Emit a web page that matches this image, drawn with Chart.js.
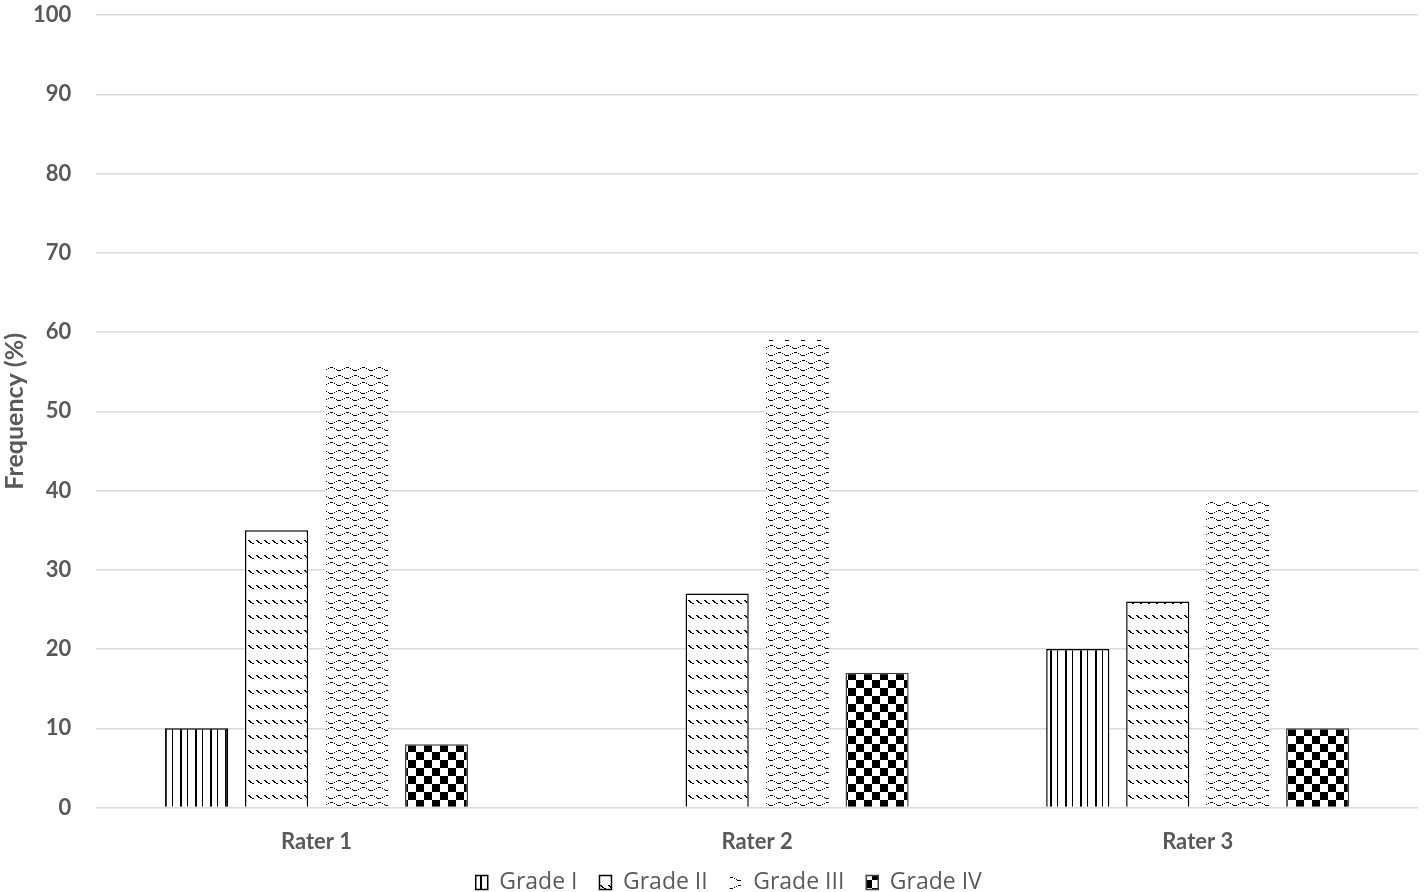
<!DOCTYPE html>
<html>
<head>
<meta charset="utf-8">
<script src="https://cdn.jsdelivr.net/npm/chart.js@4/dist/chart.umd.min.js"></script>
<style>
  html, body { margin: 0; padding: 0; background: #fff; }
  #wrap { width: 1424px; height: 892px; position: relative; }
</style>
</head>
<body>
<div id="wrap"><canvas id="chart" width="1424" height="892"></canvas></div>
<script>
// ── data ──
var raters = ['Rater 1', 'Rater 2', 'Rater 3'];
var gradeNames = ['Grade I', 'Grade II', 'Grade III', 'Grade IV'];
var gradeI = [10, 0, 20];
var gradeII = [35, 27, 26];
var gradeIII = [55.6, 59, 38.6];
var gradeIV = [8, 17, 10];
var yTicks = [0, 10, 20, 30, 40, 50, 60, 70, 80, 90, 100];

// ── patterns ──
function makePattern(w, h, draw) {
    var c = document.createElement('canvas');
    c.width = w; c.height = h;
    var g = c.getContext('2d');
    g.fillStyle = '#fff';
    g.fillRect(0, 0, w, h);
    g.fillStyle = '#000';
    draw(g);
    return document.getElementById('chart').getContext('2d').createPattern(c, 'repeat');
}

// vertical lines, alternating thick/thin
var patI = makePattern(15, 4, function(g) {
    g.fillRect(0, 0, 2, 4);
    g.fillRect(7, 0, 1, 4);
});

// rows of little backslash dashes
var patII = makePattern(8, 15, function(g) {
    g.fillRect(0, 0, 2, 1);
    g.fillRect(1, 1, 2, 1);
    g.fillRect(2, 2, 2, 1);
    g.fillRect(4, 3, 2, 1);
});

// dotted waves
var patIII = makePattern(16, 15, function(g) {
    [0, 7].forEach(function(r, k) {
        var o = k * 8;
        var segs = [[0, 1, 1], [2, 0, 3], [6, 1, 1], [8, 2, 1], [9, 3, 4], [14, 2, 1]];
        segs.forEach(function(s) {
            for (var i = 0; i < s[2]; i++) g.fillRect((s[0] + i + o) % 16, r + s[1], 1, 1);
        });
    });
});

// checkerboard
var patIV = makePattern(16, 16, function(g) {
    g.fillRect(0, 0, 8, 8);
    g.fillRect(8, 8, 8, 8);
});

var textGray = '#595959';

new Chart(document.getElementById('chart').getContext('2d'), {
    type: 'bar',
    data: {
        labels: raters,
        datasets: [
            { label: gradeNames[0], data: gradeI, backgroundColor: patI, borderColor: '#000', borderWidth: 1.5 },
            { label: gradeNames[1], data: gradeII, backgroundColor: patII, borderColor: '#000', borderWidth: 1.5 },
            { label: gradeNames[2], data: gradeIII, backgroundColor: patIII, borderColor: '#000', borderWidth: 0 },
            { label: gradeNames[3], data: gradeIV, backgroundColor: patIV, borderColor: '#404040', borderWidth: 1.5 }
        ]
    },
    options: {
        responsive: false,
        animation: false,
        devicePixelRatio: 1,
        categoryPercentage: 0.726,
        barPercentage: 0.79,
        layout: { padding: { left: 0, right: 6, top: 15, bottom: -12 } },
        plugins: {
            legend: {
                position: 'bottom',
                labels: {
                    boxWidth: 12, boxHeight: 14, padding: 16,
                    color: textGray,
                    font: { family: '"Open Sans", sans-serif', size: 23 },
                    generateLabels: function(chart) {
                        var items = Chart.defaults.plugins.legend.labels.generateLabels(chart);
                        items.forEach(function(it, i) { if (i < items.length - 1) it.text = it.text + ' '; });
                        // invisible spacer so the row sits a little right of centre, as in the original
                        items.unshift({ text: '', fillStyle: 'rgba(0,0,0,0)', strokeStyle: 'rgba(0,0,0,0)', lineWidth: 0, hidden: false, datasetIndex: -1 });
                        return items;
                    }
                }
            },
            tooltip: { enabled: false }
        },
        scales: {
            x: {
                grid: { display: false, drawTicks: true, tickLength: 21 },
                border: { display: false },
                ticks: { color: textGray, padding: 0, font: { family: 'Lato, sans-serif', size: 22, weight: 'bold' } }
            },
            y: {
                min: 0, max: 100,
                afterBuildTicks: function(axis) { axis.ticks = yTicks.map(function(v) { return { value: v }; }); },
                grid: { color: '#d9d9d9', lineWidth: 1.5, drawTicks: true, tickLength: 25, tickColor: 'rgba(0,0,0,0)' },
                border: { display: false },
                ticks: { color: textGray, padding: 0, font: { family: 'Lato, sans-serif', size: 22, weight: 'bold' } },
                title: { display: true, text: 'Frequency (%)', color: textGray, padding: { top: 0, bottom: 3 }, font: { family: 'Lato, sans-serif', size: 25, weight: 'bold' } }
            }
        }
    }
});
</script>
</body>
</html>
